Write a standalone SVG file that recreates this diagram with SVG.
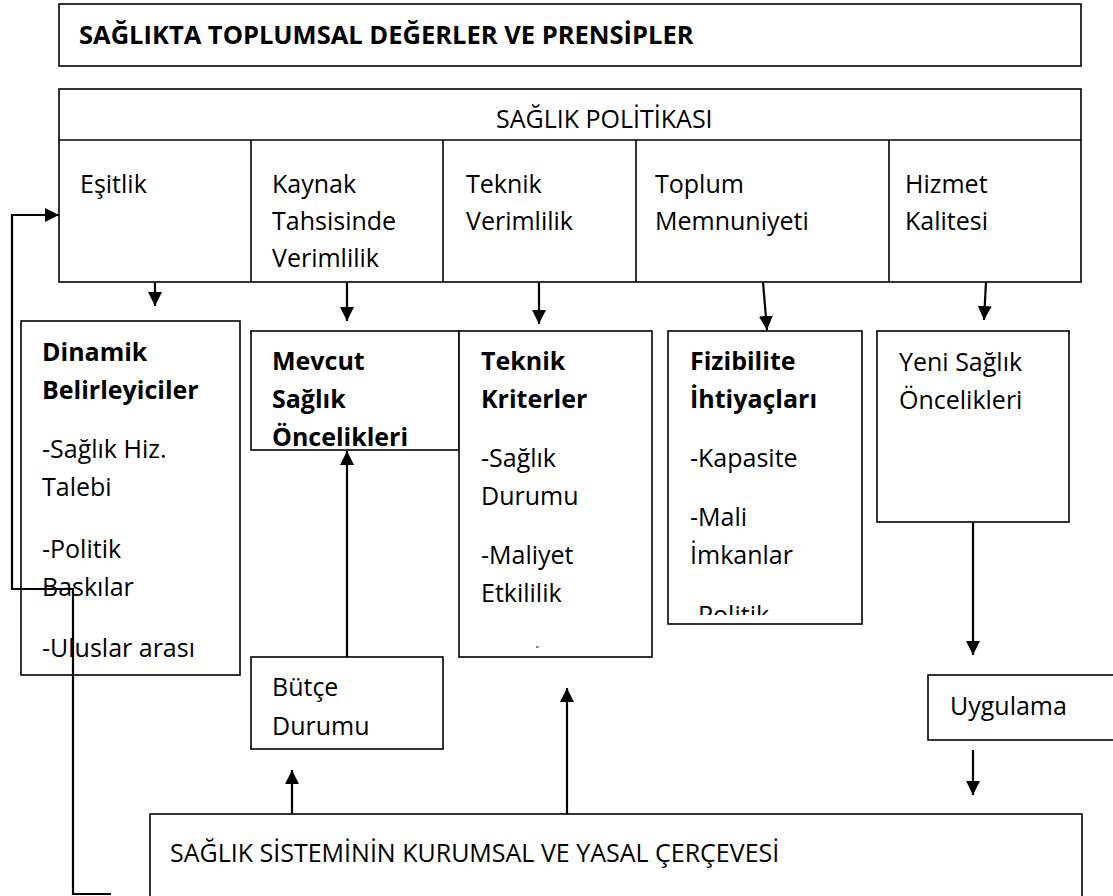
<svg xmlns="http://www.w3.org/2000/svg" width="1113" height="896" viewBox="0 0 1113 896">
<style>
.box{fill:#fff;stroke:#000;stroke-width:1.6}
.t{font-family:"Open Sans","Noto Sans","Liberation Sans",sans-serif;font-size:25px;fill:#000}
.b{font-weight:bold}
.c{fill:none;stroke:#000;stroke-width:2.2}
</style>
<defs>
<marker id="ah" markerWidth="14" markerHeight="14" viewBox="0 0 14 14" refX="14" refY="7" orient="auto" markerUnits="userSpaceOnUse">
<path d="M0,0 L14,7 L0,14 Z" fill="#000"/>
</marker>
<clipPath id="fizclip"><rect x="668" y="331" width="194" height="284"/></clipPath>
</defs>
<rect width="1113" height="896" fill="#fff"/>

<g id="title">
<rect class="box" x="59" y="4" width="1022" height="62"/>
<text class="t b" x="79" y="44" style="font-size:25.5px">SAĞLIKTA TOPLUMSAL DEĞERLER VE PRENSİPLER</text>
</g>

<g id="politika">
<rect class="box" x="59" y="89" width="1022" height="193"/>
<line class="box" x1="59" y1="140" x2="1081" y2="140"/>
<line class="box" x1="251" y1="140" x2="251" y2="282"/>
<line class="box" x1="443" y1="140" x2="443" y2="282"/>
<line class="box" x1="636" y1="140" x2="636" y2="282"/>
<line class="box" x1="889" y1="140" x2="889" y2="282"/>
<text class="t" x="496" y="128">SAĞLIK POLİTİKASI</text>
</g>

<g id="esitlik"><text class="t" x="80" y="193">Eşitlik</text></g>
<g id="kaynak"><text class="t" x="272" y="193">Kaynak</text><text class="t" x="272" y="230">Tahsisinde</text><text class="t" x="272" y="267">Verimlilik</text></g>
<g id="teknikverim"><text class="t" x="466" y="193">Teknik</text><text class="t" x="466" y="230">Verimlilik</text></g>
<g id="toplum"><text class="t" x="655" y="193">Toplum</text><text class="t" x="655" y="230">Memnuniyeti</text></g>
<g id="hizmet"><text class="t" x="905" y="193">Hizmet</text><text class="t" x="905" y="230">Kalitesi</text></g>

<g id="dinamik">
<rect class="box" x="21" y="321" width="219" height="354"/>
<text class="t b" x="42" y="361">Dinamik</text>
<text class="t b" x="42" y="399">Belirleyiciler</text>
<text class="t" x="42" y="458">-Sağlık Hiz.</text>
<text class="t" x="42" y="496">Talebi</text>
<text class="t" x="42" y="558">-Politik</text>
<text class="t" x="42" y="596">Baskılar</text>
<text class="t" x="42" y="657">-Uluslar arası</text>
</g>

<g id="mevcut">
<rect class="box" x="251" y="331" width="208" height="119"/>
<text class="t b" x="272" y="370">Mevcut</text>
<text class="t b" x="272" y="408">Sağlık</text>
<text class="t b" x="272" y="446">Öncelikleri</text>
</g>

<g id="teknik">
<rect class="box" x="459" y="331" width="193" height="326"/>
<text class="t b" x="481" y="370">Teknik</text>
<text class="t b" x="481" y="408">Kriterler</text>
<text class="t" x="481" y="467">-Sağlık</text>
<text class="t" x="481" y="505">Durumu</text>
<text class="t" x="481" y="564">-Maliyet</text>
<text class="t" x="481" y="602">Etkililik</text>
<line x1="536" y1="647" x2="538.5" y2="647" stroke="#000" stroke-width="1"/>
</g>

<g id="fizibilite">
<rect class="box" x="668" y="331" width="194" height="293"/>
<text class="t b" x="690" y="370">Fizibilite</text>
<text class="t b" x="690" y="408">İhtiyaçları</text>
<text class="t" x="690" y="467">-Kapasite</text>
<text class="t" x="690" y="526">-Mali</text>
<text class="t" x="690" y="564">İmkanlar</text>
<text class="t" x="690" y="624" clip-path="url(#fizclip)">-Politik</text>
</g>

<g id="yeni">
<rect class="box" x="877" y="331" width="192" height="191"/>
<text class="t" x="899" y="371">Yeni Sağlık</text>
<text class="t" x="899" y="409">Öncelikleri</text>
</g>

<g id="butce">
<rect class="box" x="251" y="657" width="192" height="92"/>
<text class="t" x="272" y="696">Bütçe</text>
<text class="t" x="272" y="735">Durumu</text>
</g>

<g id="uygulama">
<rect class="box" x="928" y="675" width="200" height="65"/>
<text class="t" x="950" y="715">Uygulama</text>
</g>

<g id="cerceve">
<rect class="box" x="150" y="814" width="932" height="90"/>
<text class="t" x="170" y="862">SAĞLIK SİSTEMİNİN KURUMSAL VE YASAL ÇERÇEVESİ</text>
</g>

<g id="connectors">
<line class="c" x1="155" y1="282" x2="155" y2="306" marker-end="url(#ah)"/>
<line class="c" x1="347" y1="282" x2="347" y2="321" marker-end="url(#ah)"/>
<line class="c" x1="539" y1="282" x2="539" y2="324" marker-end="url(#ah)"/>
<line class="c" x1="763" y1="282" x2="767" y2="330" marker-end="url(#ah)"/>
<line class="c" x1="986" y1="282" x2="984" y2="320" marker-end="url(#ah)"/>
<line class="c" x1="347" y1="657" x2="347" y2="451" marker-end="url(#ah)"/>
<line class="c" x1="973" y1="522" x2="973" y2="655" marker-end="url(#ah)"/>
<line class="c" x1="973" y1="750" x2="973" y2="795" marker-end="url(#ah)"/>
<line class="c" x1="292" y1="814" x2="292" y2="770" marker-end="url(#ah)"/>
<line class="c" x1="567" y1="814" x2="567" y2="688" marker-end="url(#ah)"/>
<polyline class="c" points="111,894 73,894 73,589 12,589 12,215 59,215" marker-end="url(#ah)"/>
</g>
</svg>
